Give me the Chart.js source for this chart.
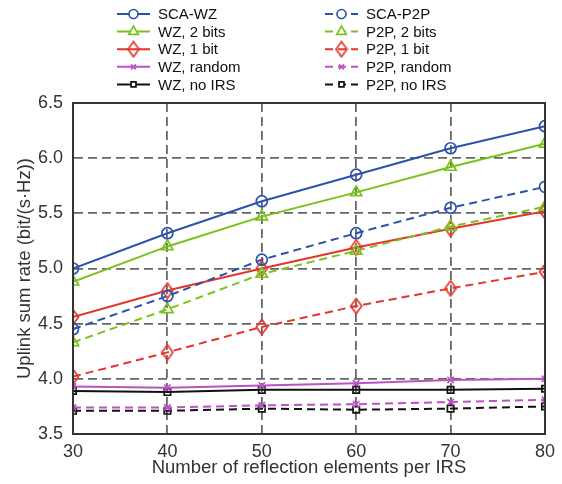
<!DOCTYPE html>
<html>
<head>
<meta charset="utf-8">
<script src="https://cdn.jsdelivr.net/npm/chart.js@4/dist/chart.umd.min.js"></script>
<style>
  html, body { margin:0; padding:0; background:#fff; }
  #wrap { width:562px; height:484px; position:relative; }
</style>
</head>
<body>
<div id="wrap"><canvas id="c" width="562" height="484"></canvas></div>
<script>
// data
const elements = [30, 40, 50, 60, 70, 80];
const yTicks = [3.5, 4.0, 4.5, 5.0, 5.5, 6.0, 6.5];

const scaWZ     = [5.00, 5.32, 5.61, 5.85, 6.09, 6.29];
const scaP2P    = [4.45, 4.75, 5.08, 5.32, 5.55, 5.74];
const wz2bits   = [4.88, 5.20, 5.47, 5.69, 5.92, 6.13];
const p2p2bits  = [4.33, 4.63, 4.95, 5.16, 5.38, 5.56];
const wz1bit    = [4.56, 4.80, 5.00, 5.19, 5.36, 5.52];
const p2p1bit   = [4.02, 4.24, 4.47, 4.66, 4.82, 4.97];
const wzRandom  = [3.93, 3.92, 3.94, 3.96, 3.99, 4.00];
const p2pRandom = [3.74, 3.74, 3.76, 3.77, 3.79, 3.81];
const wzNoIRS   = [3.89, 3.88, 3.90, 3.90, 3.90, 3.91];
const p2pNoIRS  = [3.71, 3.71, 3.73, 3.72, 3.73, 3.75];

const BLUE = '#2c52ab', GREEN = '#78c31a', RED = '#e3352b', MAG = '#bb52c6', BLACK = '#111';
const FONT = '"Liberation Sans", Arial, Helvetica, sans-serif';

// tall diamond marker like matlab's 'd'
function diamond(color) {
    const c = document.createElement('canvas');
    c.width = 14; c.height = 18;
    const g = c.getContext('2d');
    g.strokeStyle = color;
    g.lineWidth = 1.7;
    g.beginPath();
    g.moveTo(7, 1.5); g.lineTo(12.5, 9); g.lineTo(7, 16.5); g.lineTo(1.5, 9);
    g.closePath();
    g.stroke();
    return c;
}
const redDiamond = diamond(RED);

function series(label, data, color, style, radius, dashed) {
    return {
        label: label,
        data: data.map((v, i) => ({ x: elements[i], y: v })),
        borderColor: color,
        backgroundColor: 'transparent',
        borderWidth: 2,
        borderDash: dashed ? [8, 5] : [],
        pointStyle: style,
        pointRadius: radius,
        pointBorderWidth: 1.7,
        pointBorderColor: color,
        pointBackgroundColor: 'transparent',
        tension: 0
    };
}

// order alternates left / right legend column
const datasets = [
    series('SCA-WZ', scaWZ, BLUE, 'circle', 5.5, false),
    series('SCA-P2P', scaP2P, BLUE, 'circle', 5.5, true),
    series('WZ, 2 bits', wz2bits, GREEN, 'triangle', 6.5, false),
    series('P2P, 2 bits', p2p2bits, GREEN, 'triangle', 6.5, true),
    series('WZ, 1 bit', wz1bit, RED, redDiamond, 7, false),
    series('P2P, 1 bit', p2p1bit, RED, redDiamond, 7, true),
    series('WZ, random', wzRandom, MAG, 'crossRot', 4.5, false),
    series('P2P, random', p2pRandom, MAG, 'crossRot', 4.5, true),
    series('WZ, no IRS', wzNoIRS, BLACK, 'rect', 4.5, false),
    series('P2P, no IRS', p2pNoIRS, BLACK, 'rect', 4.5, true)
];

// box around plot + two-column legend
const boxAndLegend = {
    id: 'boxAndLegend',
    afterDatasetsDraw(chart) {
        const ctx = chart.ctx, a = chart.chartArea;
        ctx.save();
        ctx.strokeStyle = '#333';
        ctx.lineWidth = 2;
        ctx.setLineDash([]);
        ctx.strokeRect(a.left, a.top, a.right - a.left, a.bottom - a.top);
        ctx.restore();
    },
    afterDraw(chart) {
        const ctx = chart.ctx;
        const cols = [117, 325];
        chart.data.datasets.forEach((ds, i) => {
            const x0 = cols[i % 2];
            const y = 14 + Math.floor(i / 2) * 17.6;
            ctx.save();
            ctx.strokeStyle = ds.borderColor;
            ctx.lineWidth = 2;
            ctx.setLineDash(ds.borderDash);
            ctx.beginPath();
            ctx.moveTo(x0, y);
            ctx.lineTo(x0 + 33, y);
            ctx.stroke();
            ctx.setLineDash([]);
            ctx.fillStyle = '#fff';
            ctx.lineWidth = 1.7;
            Chart.helpers.drawPoint(ctx, {
                pointStyle: ds.pointStyle,
                radius: ds.pointRadius - 1,
                borderWidth: 1.7,
                rotation: 0
            }, x0 + 16.5, y);
            ctx.fillStyle = '#111';
            ctx.font = '15px ' + FONT;
            ctx.textBaseline = 'middle';
            ctx.fillText(ds.label, x0 + 41, y + 1);
            ctx.restore();
        });
    }
};

const gridStyle = { color: '#666', lineWidth: 1.8, drawTicks: false };

new Chart(document.getElementById('c'), {
    type: 'line',
    data: { datasets: datasets },
    options: {
        responsive: false,
        animation: false,
        layout: { padding: { left: 0, top: 103, right: 16, bottom: 0 } },
        plugins: { legend: { display: false }, tooltip: { enabled: false } },
        scales: {
            x: {
                type: 'linear',
                min: 30, max: 80,
                afterFit: s => { s.height = 50; },
                afterBuildTicks: s => { s.ticks = elements.map(v => ({ value: v })); },
                grid: gridStyle,
                border: { display: true, color: '#333', width: 2, dash: [9, 5] },
                ticks: { color: '#333', font: { family: FONT, size: 18 }, padding: 7, maxRotation: 0 },
                title: { display: true, text: 'Number of reflection elements per IRS', color: '#333', font: { family: FONT, size: 18.5 }, padding: { top: 0, bottom: 5 } }
            },
            y: {
                min: 3.5, max: 6.5,
                afterFit: s => { s.width = 73; },
                afterBuildTicks: s => { s.ticks = yTicks.map(v => ({ value: v })); },
                grid: gridStyle,
                border: { display: true, color: '#333', width: 2, dash: [9, 5] },
                ticks: { color: '#333', font: { family: FONT, size: 18 }, padding: 10, callback: v => v.toFixed(1) },
                title: { display: true, text: 'Uplink sum rate (bit/(s·Hz))', color: '#333', font: { family: FONT, size: 18.5 }, padding: { top: 14, bottom: 0 } }
            }
        }
    },
    plugins: [boxAndLegend]
});
</script>
</body>
</html>
